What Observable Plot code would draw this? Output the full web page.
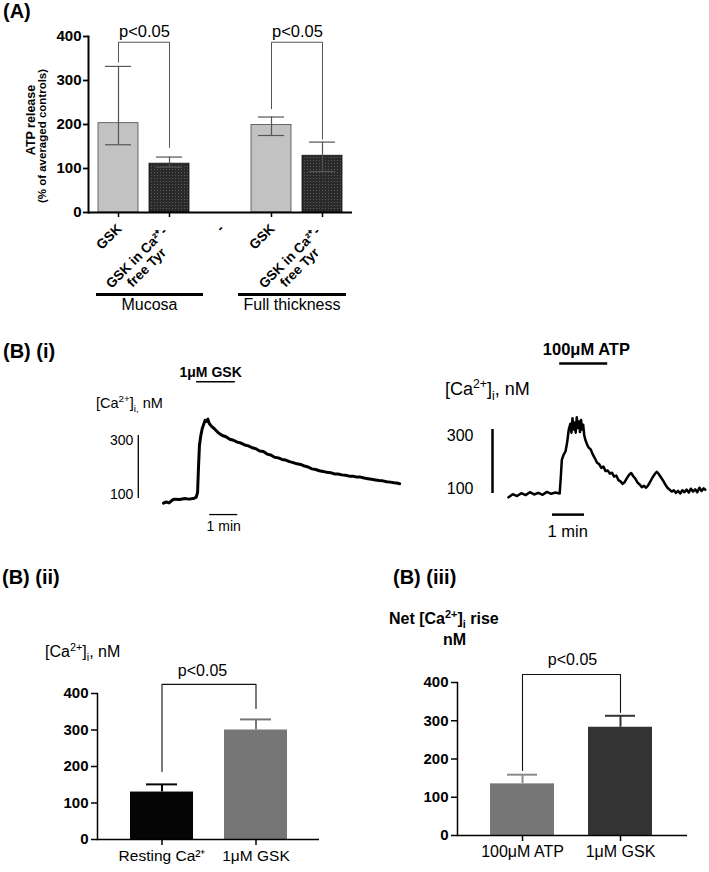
<!DOCTYPE html>
<html><head><meta charset="utf-8">
<script src="https://cdn.jsdelivr.net/npm/d3@7"></script>
<script src="https://cdn.jsdelivr.net/npm/@observablehq/plot@0.6"></script>
<style>
body{margin:0;background:#fff;}
#root{position:relative;width:709px;height:872px;overflow:hidden;font-family:"Liberation Sans",Arial,sans-serif;color:#000;background:#fff;}
.abs{position:absolute;white-space:nowrap;line-height:1;}
.panel{font-weight:bold;font-size:20px;}
.plot{position:absolute;}
.plot svg{overflow:visible;}
sup,sub{font-size:0.68em;line-height:0;}
.vt{position:absolute;white-space:nowrap;line-height:1;writing-mode:vertical-rl;transform:translate(-50%,-50%) rotate(180deg);font-weight:bold;}
.hr{position:absolute;background:#000;}
</style></head><body><div id="root"></div>
<script>
// ---------------- Panel A data ----------------
const aKeys = ["m1", "m2", "gap", "f1", "f2"];
const aTickLabels = ["GSK", "GSK in Ca²⁺-\nfree Tyr", "-", "GSK", "GSK in Ca²⁺-\nfree Tyr"];
const aMean = [203, 111, null, 199, 129];
const aLow = [154, 103, null, 175, 93];
const aHigh = [332, 126, null, 217, 160];
const aKind = ["light", "dark", null, "light", "dark"];
const aTicks = [0, 100, 200, 300, 400];
const aGroups = ["Mucosa", "Full thickness"];
const aBrFrom = ["m1", "f1"];
const aBrTo = ["m2", "f2"];
const aBrTop = [387, 387];
const aBrFromEnd = [342, 236];
const aBrToEnd = [148, 167];
const aBrLabelY = [411, 411];
const pLabel = "p<0.05";

// ---------------- Panel B(i) traces ----------------
const gskT = [0, 6, 12, 15, 20, 24, 35, 45, 55, 66, 70, 73, 75, 77, 80, 83, 86, 89, 92, 95, 98, 103, 110, 118, 126, 134, 142, 150, 158, 166, 174, 182, 190, 198, 206, 214, 222, 230, 238, 246, 254, 262, 270, 278, 286, 294, 302, 310, 318, 326, 334, 342, 350, 358, 366, 374, 382, 390, 398, 406, 414, 422, 430, 438, 446, 454, 462, 470, 478, 486, 494, 500, 506];
const gskNM = [85, 89, 86, 90, 96, 98, 97, 100, 98, 101, 104, 119, 200, 268, 300, 322, 335, 348, 345, 352, 338, 329, 320, 308, 300, 296, 288, 285, 279, 276, 270, 267, 261, 258, 251, 249, 241, 238, 231, 229, 224, 222, 217, 214, 210, 208, 203, 200, 194, 192, 188, 186, 183, 182, 178, 178, 175, 174, 171, 171, 168, 168, 165, 163, 161, 159, 157, 156, 153, 152, 150, 149, 147];
const gskDrug = [71, 154];      // application bar (s)
const gskMinBar = [99, 159];    // 1 min scale bar (s)
const gskScaleT = -54;          // vertical scale bar time position
const atpT = [0, 8, 16, 24, 32, 40, 48, 56, 64, 72, 80, 88, 96, 98, 100, 103, 107, 110, 113, 116, 118, 120, 122, 124, 126, 128, 130, 132, 134, 136, 138, 140, 142, 144, 147, 150, 154, 158, 162, 166, 170, 174, 178, 182, 186, 190, 194, 198, 202, 206, 210, 214, 218, 222, 226, 230, 234, 238, 242, 246, 250, 254, 258, 262, 266, 270, 274, 278, 282, 286, 290, 294, 298, 302, 306, 310, 314, 318, 322, 326, 330, 334, 338, 342, 346, 350, 354, 358, 362, 366, 369];
const atpNM = [88, 98, 92, 101, 95, 104, 97, 102, 96, 105, 99, 103, 100, 150, 205, 220, 232, 260, 300, 318, 290, 335, 300, 322, 290, 338, 305, 325, 292, 330, 300, 315, 282, 268, 255, 244, 238, 222, 210, 196, 192, 180, 184, 170, 172, 162, 165, 153, 156, 142, 138, 130, 136, 148, 158, 164, 154, 146, 134, 128, 120, 124, 118, 126, 138, 150, 160, 168, 160, 150, 140, 128, 118, 112, 106, 110, 102, 108, 100, 110, 104, 112, 103, 115, 106, 113, 104, 118, 108, 116, 112];
const atpDrug = [96, 186];
const atpMinBar = [82.5, 142.5];
const atpScaleT = -30;
const scaleNM = [100, 300];

// ---------------- Panel B(ii) ----------------
const b2Keys = ["rest", "gsk"];
const b2Labels = ["Resting Ca²⁺", "1μM GSK"];
const b2Mean = [130, 300];
const b2High = [151, 329];
const b2Fill = ["#050505", "#767676"];
const b2Err = ["#050505", "#767676"];

// ---------------- Panel B(iii) ----------------
const b3Keys = ["atp", "gsk"];
const b3Labels = ["100μM ATP", "1μM GSK"];
const b3Mean = [135, 283];
const b3High = [159, 313];
const b3Fill = ["#777777", "#333333"];
const b3Err = ["#8a8a8a", "#333333"];
const bTicks = [0, 100, 200, 300, 400];

// ---------------- helpers ----------------
const root = document.getElementById("root");
const FONT = '"Liberation Sans", Arial, sans-serif';
const baseStyle = {fontFamily: FONT, background: "transparent", overflow: "visible", color: "#000"};
function addHTML(html, css, cls = "abs") {
  const d = document.createElement("div");
  d.className = cls; d.innerHTML = html;
  Object.assign(d.style, css);
  root.appendChild(d); return d;
}
function addPlot(svg, left, top) {
  const w = document.createElement("div");
  w.className = "plot"; w.style.left = left + "px"; w.style.top = top + "px";
  w.appendChild(svg); root.appendChild(w);
}

// ---------------- Panel A ----------------
const aData = aKeys.map((k, i) => ({key: k, label: aTickLabels[i], mean: aMean[i], low: aLow[i], high: aHigh[i], kind: aKind[i]}));
const aBars = aData.filter(d => d.mean != null);
const aBrPts = aBrFrom.flatMap((f, i) => [
  {b: i, x: f, y: aBrFromEnd[i]}, {b: i, x: f, y: aBrTop[i]},
  {b: i, x: aBrTo[i], y: aBrTop[i]}, {b: i, x: aBrTo[i], y: aBrToEnd[i]}]);
const aBrText = aBrFrom.map((f, i) => ({x: f, y: aBrLabelY[i], t: pLabel}));

const plotA = Plot.plot({
  width: 360, height: 320,
  marginLeft: 88, marginRight: 8, marginTop: 36, marginBottom: 108,
  style: baseStyle,
  x: {domain: aKeys, range: [92.5, 347.5], paddingInner: 0.216, paddingOuter: 0.108, label: null},
  y: {domain: [0, 400], label: null},
  marks: [
    Plot.barY(aBars.filter(d => d.kind === "light"), {x: "key", y: "mean", fill: "#c2c2c2", stroke: "#4a4a4a", strokeWidth: 0.8}),
    Plot.barY(aBars.filter(d => d.kind === "dark"), {x: "key", y: "mean", fill: "url(#stipple)", stroke: "#111", strokeWidth: 0.8}),
    Plot.ruleX(aBars, {x: "key", y1: "low", y2: "high", stroke: "#555", strokeWidth: 1.2}),
    Plot.tickY(aBars, {x: "key", y: "high", stroke: "#555", strokeWidth: 1.2, insetLeft: 7, insetRight: 7}),
    Plot.tickY(aBars, {x: "key", y: "low", stroke: "#555", strokeWidth: 1.2, insetLeft: 7, insetRight: 7}),
    Plot.line(aBrPts, {x: "x", y: "y", z: "b", stroke: "#555", strokeWidth: 1}),
    Plot.text(aBrText, {x: "x", y: "y", text: "t", dx: 26, fontSize: 16.5}),
    Plot.axisY({ticks: aTicks, tickSize: 5, tickPadding: 2, fontSize: 15, fontWeight: "bold", strokeWidth: 1.8}),
    Plot.axisX({ticks: ["m1", "m2", "f1", "f2"], tickSize: 5, tickFormat: () => "", strokeWidth: 1.5}),
    Plot.ruleY([0], {strokeWidth: 2}),
    Plot.frame({anchor: "left", strokeWidth: 2}),
    Plot.text(aData.filter(d => !d.label.includes("\n")), {x: "key", text: "label", frameAnchor: "bottom", rotate: -45, textAnchor: "end", lineAnchor: "middle", dx: 1, dy: 14, fontSize: 13.5, fontWeight: "bold"}),
    Plot.text(aData.filter(d => d.label.includes("\n")), {x: "key", text: "label", frameAnchor: "bottom", rotate: -45, textAnchor: "middle", lineAnchor: "middle", dx: -28, dy: 50, fontSize: 13.5, fontWeight: "bold", lineHeight: 1.05})
  ]
});
plotA.insertAdjacentHTML("afterbegin", '<defs><pattern id="stipple" width="3" height="3" patternUnits="userSpaceOnUse"><rect width="3" height="3" fill="#2a2a2a"/><rect x="1" y="1" width="1" height="1" fill="#5c5c5c"/></pattern></defs>');
addPlot(plotA, 0, 0);

addHTML("(A)", {left: "3px", top: "1px"}, "abs panel");
addHTML("ATP release", {left: "31px", top: "120px", fontSize: "12.5px"}, "vt");
addHTML("(% of averaged controls)", {left: "43px", top: "136px", fontSize: "11.5px"}, "vt");
// group underlines
addHTML("", {left: "96px", top: "293px", width: "107px", height: "2.5px"}, "hr");
addHTML("", {left: "238px", top: "293px", width: "108px", height: "2.5px"}, "hr");
addHTML(aGroups[0], {left: "96px", width: "107px", textAlign: "center", top: "297px", fontSize: "16px"});
addHTML(aGroups[1], {left: "238px", width: "108px", textAlign: "center", top: "297px", fontSize: "16px"});

// ---------------- Panel B(i) ----------------
const gsk = gskT.map((t, i) => ({t, nM: gskNM[i]}));
const plotBiL = Plot.plot({
  width: 420, height: 210, margin: 0, style: baseStyle,
  x: {type: "linear", domain: [0, 506], range: [163, 163 + 506 * 28 / 60], axis: null},
  y: {type: "linear", domain: [100, 300], range: [168, 105], axis: null},
  marks: [
    Plot.line(gsk, {x: "t", y: "nM", strokeWidth: 3, strokeLinejoin: "round"}),
    Plot.ruleX([gskScaleT], {y1: scaleNM[0], y2: scaleNM[1], strokeWidth: 1.3}),
    Plot.text([scaleNM[1]], {x: () => gskScaleT, y: d => d, text: d => String(d), textAnchor: "end", lineAnchor: "top", dx: -5, fontSize: 14}),
    Plot.text([scaleNM[0]], {x: () => gskScaleT, y: d => d, text: d => String(d), textAnchor: "end", lineAnchor: "bottom", dx: -5, fontSize: 14}),
    Plot.ruleY([471], {x1: gskDrug[0], x2: gskDrug[1], strokeWidth: 1.5}),
    Plot.text(["1μM GSK"], {x: () => 101, y: () => 500, text: d => d, fontSize: 14, fontWeight: "bold"}),
    Plot.ruleY([49], {x1: gskMinBar[0], x2: gskMinBar[1], strokeWidth: 1.3}),
    Plot.text(["1 min"], {x: () => 129, y: () => 11, text: d => d, fontSize: 14})
  ]
});
addPlot(plotBiL, 0, 330);

const atp = atpT.map((t, i) => ({t, nM: atpNM[i]}));
const plotBiR = Plot.plot({
  width: 269, height: 210, margin: 0, style: baseStyle,
  x: {type: "linear", domain: [0, 369], range: [68, 68 + 369 * 32 / 60], axis: null},
  y: {type: "linear", domain: [100, 300], range: [163, 99], axis: null},
  marks: [
    Plot.line(atp, {x: "t", y: "nM", strokeWidth: 2.5, strokeLinejoin: "round"}),
    Plot.ruleX([atpScaleT], {y1: scaleNM[0], y2: scaleNM[1], strokeWidth: 2.5}),
    Plot.text([scaleNM[1]], {x: () => atpScaleT, y: d => d, text: d => String(d), textAnchor: "end", lineAnchor: "top", dx: -19, fontSize: 16}),
    Plot.text([scaleNM[0]], {x: () => atpScaleT, y: d => d, text: d => String(d), textAnchor: "end", lineAnchor: "bottom", dx: -19, fontSize: 16}),
    Plot.ruleY([506], {x1: atpDrug[0], x2: atpDrug[1], strokeWidth: 2.5}),
    Plot.text(["100μM ATP"], {x: () => 146, y: () => 550, text: d => d, fontSize: 16.5, fontWeight: "bold"}),
    Plot.ruleY([34], {x1: atpMinBar[0], x2: atpMinBar[1], strokeWidth: 2.5}),
    Plot.text(["1 min"], {x: () => 111, y: () => -19, text: d => d, fontSize: 16.5})
  ]
});
addPlot(plotBiR, 440, 330);

addHTML("(B) (i)", {left: "3px", top: "341px"}, "abs panel");
addHTML("[Ca<sup>2+</sup>]<sub>i,</sub>&nbsp;nM", {left: "96px", top: "396px", fontSize: "14.5px"});
addHTML("[Ca<sup>2+</sup>]<sub>i</sub>, nM", {left: "445px", top: "380px", fontSize: "18px"});

// ---------------- Panels B(ii) & B(iii) ----------------
function barPanel(o) {
  const data = o.keys.map((k, i) => ({key: k, mean: o.mean[i], high: o.high[i], fill: o.fill[i], err: o.err[i]}));
  const br = [
    {b: 0, x: o.keys[0], y: o.brFromEnd}, {b: 0, x: o.keys[0], y: o.brTop},
    {b: 0, x: o.keys[1], y: o.brTop}, {b: 0, x: o.keys[1], y: o.brToEnd}];
  const brText = [{x: o.keys[0], y: o.brLabelY, t: pLabel}];
  return Plot.plot({
    width: o.width, height: o.height,
    marginLeft: o.ml, marginRight: o.mr, marginTop: o.mt, marginBottom: o.mb,
    style: baseStyle,
    color: {type: "identity"},
    x: {domain: o.keys, range: o.xRange, paddingInner: o.pad, paddingOuter: o.pad / 2, label: null},
    y: {domain: [0, 400], label: null},
    marks: [
      Plot.barY(data, {x: "key", y: "mean", fill: "fill"}),
      Plot.ruleX(data, {x: "key", y1: "mean", y2: "high", stroke: "err", strokeWidth: 2}),
      Plot.tickY(data, {x: "key", y: "high", stroke: "err", strokeWidth: 2, insetLeft: o.cap, insetRight: o.cap}),
      Plot.line(br, {x: "x", y: "y", z: "b", stroke: "#111", strokeWidth: 1.1}),
      Plot.text(brText, {x: "x", y: "y", text: "t", dx: o.brDx, fontSize: 16}),
      Plot.axisY({ticks: bTicks, tickSize: 6, tickPadding: 3, fontSize: 15, fontWeight: "bold", strokeWidth: 1.5}),
      Plot.axisX({tickSize: 6, tickPadding: 4, fontSize: o.xFont, tickFormat: k => o.labels[o.keys.indexOf(k)], strokeWidth: 1.5}),
      Plot.ruleY([0], {strokeWidth: 1.5}),
      Plot.frame({anchor: "left", strokeWidth: 1.5})
    ]
  });
}
const plotB2 = barPanel({keys: b2Keys, labels: b2Labels, mean: b2Mean, high: b2High, fill: b2Fill, err: b2Err,
  brFromEnd: 186, brToEnd: 359, brTop: 425, brLabelY: 463, brDx: 40.5,
  width: 350, height: 312, ml: 97, mr: 31, mt: 133, mb: 33, xRange: [114.5, 302.5], pad: 0.33, cap: 16, xFont: 15.5});
addPlot(plotB2, 0, 560);

const plotB3 = barPanel({keys: b3Keys, labels: b3Labels, mean: b3Mean, high: b3High, fill: b3Fill, err: b3Err,
  brFromEnd: 170, brToEnd: 322, brTop: 421, brLabelY: 460, brDx: 50,
  width: 359, height: 312, ml: 107, mr: 22, mt: 122, mb: 37, xRange: [123, 319], pad: 0.347, cap: 17, xFont: 16});
addPlot(plotB3, 350, 560);

addHTML("(B) (ii)", {left: "2px", top: "567px"}, "abs panel");
addHTML("(B) (iii)", {left: "393px", top: "567px"}, "abs panel");
addHTML("[Ca<sup>2+</sup>]<sub>i</sub>, nM", {left: "45px", top: "644px", fontSize: "16px"});
addHTML("Net [Ca<sup>2+</sup>]<sub>i</sub> rise", {left: "389px", top: "611px", fontSize: "16px", fontWeight: "bold"});
addHTML("nM", {left: "443px", top: "632px", fontSize: "16px", fontWeight: "bold"});
</script>
</body></html>
